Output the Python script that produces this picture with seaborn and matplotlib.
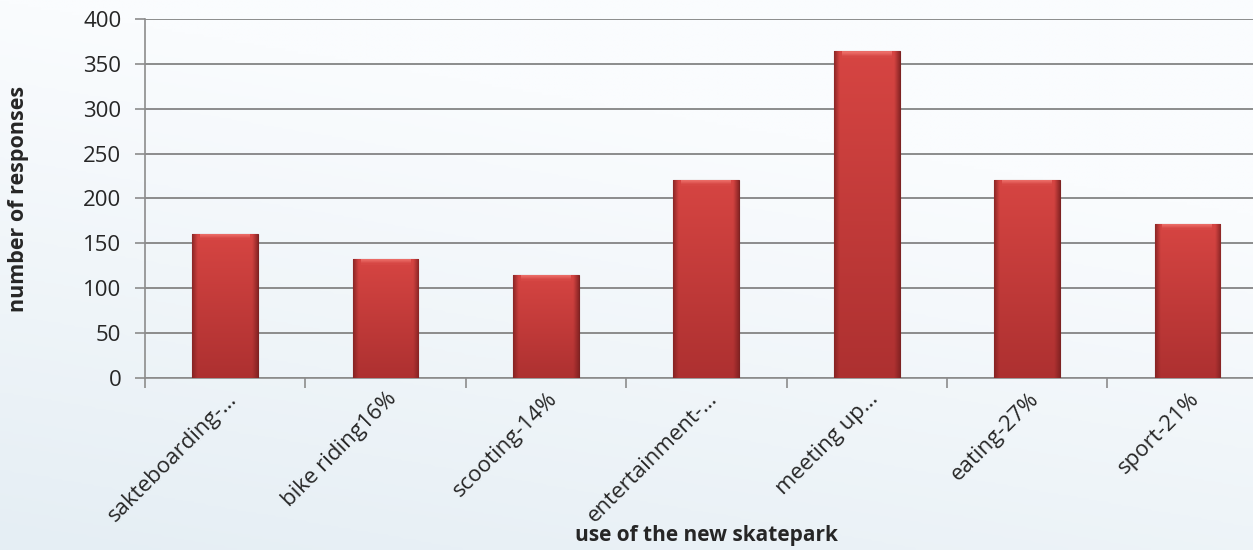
import numpy as np
import pandas as pd
import seaborn as sns
import matplotlib.pyplot as plt
import matplotlib.transforms as mtransforms
from matplotlib.colors import LinearSegmentedColormap

# dane
categories = ['sakteboarding-…', 'bike riding16%', 'scooting-14%', 'entertainment-…',
              'meeting up…', 'eating-27%', 'sport-21%']
responses = [161, 133, 115, 221, 364, 221, 172]
y_ticks = [0, 50, 100, 150, 200, 250, 300, 350, 400]

df = pd.DataFrame({'use': categories, 'responses': responses})

sns.set_style('white')
plt.rcParams['font.family'] = ['Open Sans', 'DejaVu Sans']

fig = plt.figure(figsize=(12.53, 5.5), dpi=100)

# tlo z lekkim gradientem
bg = fig.add_axes([0, 0, 1, 1], zorder=-10)
gy, gx = np.mgrid[0:1:200j, 0:1:200j]
shade = np.clip(gy * 0.9 + (1 - gx) * 0.35 - 0.35, 0, 1)
bg_cmap = LinearSegmentedColormap.from_list('bg', ['#fafcfe', '#e5eef4'])
bg.imshow(shade, cmap=bg_cmap, aspect='auto', extent=[0, 1, 0, 1], origin='upper')
bg.axis('off')

ax = fig.add_axes([0.1157, 0.3127, 0.896, 0.6528])
ax.patch.set_alpha(0)

sns.barplot(data=df, x='use', y='responses', color='#c43b3b', width=0.41,
            edgecolor='#7d2222', linewidth=0.8, ax=ax, zorder=3)

# gradient na slupkach (pionowy + ciemniejsze boki)
yy, xx = np.mgrid[0:1:120j, 0:1:60j]
side = np.clip(1 - np.minimum(xx, 1 - xx) / 0.08, 0, 1)
base = np.array([0.84, 0.27, 0.26])[None, None, :] * (1 - yy[..., None]) + \
       np.array([0.68, 0.19, 0.19])[None, None, :] * yy[..., None]
dark = np.array([0.50, 0.13, 0.13])[None, None, :]
rgb = base * (1 - side[..., None] * 0.8) + dark * side[..., None] * 0.8
for p in ax.patches:
    x0, y0 = p.get_x(), p.get_y()
    w, h = p.get_width(), p.get_height()
    im = ax.imshow(rgb, aspect='auto', extent=[x0, x0 + w, y0, y0 + h],
                   origin='upper', zorder=3.5, interpolation='bilinear')
    im.set_clip_path(p)
    top = ax.imshow(np.array([[[0.92, 0.42, 0.40]], [[0.84, 0.28, 0.27]]]), aspect='auto',
                    extent=[x0 + w * 0.12, x0 + w * 0.88, y0 + h - 7, y0 + h],
                    origin='upper', zorder=3.6, interpolation='bilinear')
    top.set_clip_path(p)

ax.set_ylim(0, 400)
ax.set_xlim(-0.5, 6.5)
ax.set_yticks(y_ticks)
ax.set_xticks(np.arange(-0.5, 7, 1), minor=True)
ax.yaxis.grid(True, color='#8c8c8c', linewidth=1.4)
ax.set_axisbelow(True)

for s in ['top', 'right']:
    ax.spines[s].set_visible(False)
for s in ['left', 'bottom']:
    ax.spines[s].set_color('#8c8c8c')
    ax.spines[s].set_linewidth(1.2)

ax.tick_params(axis='y', which='major', left=True, length=7, width=1.2, color='#8c8c8c',
               labelsize=16, pad=10)
ax.tick_params(axis='x', which='major', bottom=False, labelsize=16, pad=4)
ax.tick_params(axis='x', which='minor', bottom=True, length=7, width=1.2, color='#8c8c8c')
shift = mtransforms.ScaledTranslation(1 / 100, 0, fig.dpi_scale_trans)
for lab in ax.get_xticklabels():
    lab.set_rotation(45)
    lab.set_ha('right')
    lab.set_va('top')
    lab.set_rotation_mode('anchor')
    lab.set_transform(lab.get_transform() + shift)

ax.set_xlabel('use of the new skatepark', fontsize=15, fontweight='bold')
ax.xaxis.set_label_coords(0.5, -0.41)
ax.set_ylabel('number of responses', fontsize=15.5, fontweight='bold')
ax.yaxis.set_label_coords(-0.103, 0.5)

plt.savefig('out.png', dpi=100)
